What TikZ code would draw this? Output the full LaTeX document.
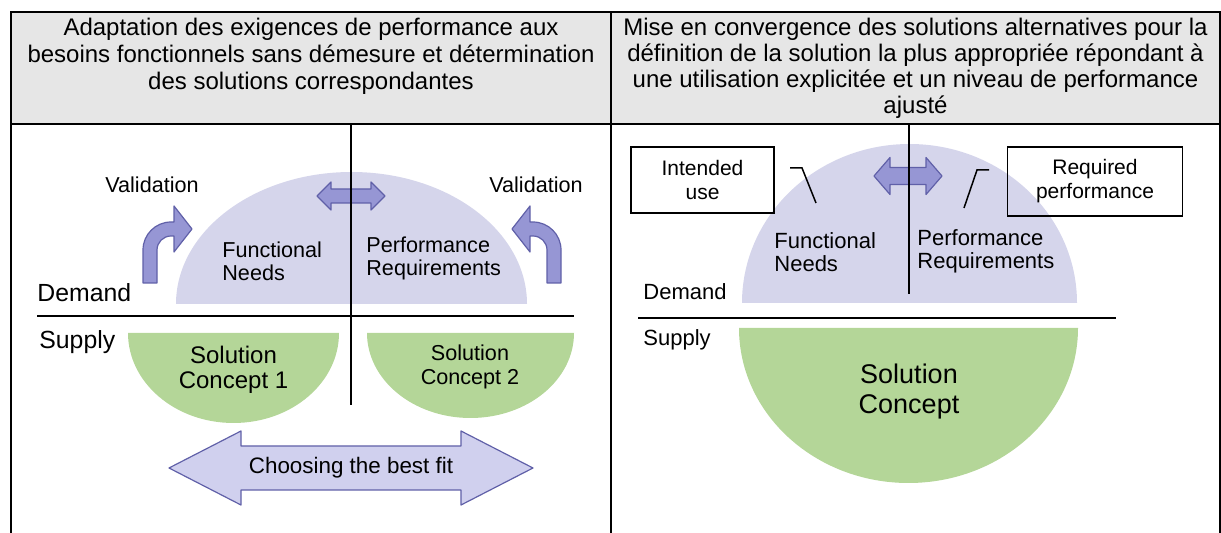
\documentclass[tikz,border=0pt]{standalone}
\usepackage{fontspec}
\setmainfont{Liberation Sans}
\usetikzlibrary{positioning}
\definecolor{hdrgray}{RGB}{230,230,230}
\definecolor{demandblue}{RGB}{213,213,235}
\definecolor{supplygreen}{RGB}{180,214,152}
\definecolor{arrowblue}{RGB}{150,150,212}
\definecolor{arrowedge}{RGB}{96,96,168}
\definecolor{fitblue}{RGB}{208,208,238}
\begin{document}
\begin{tikzpicture}[x=0.5pt,y=-0.5pt,
  frame/.style={line width=1pt},
  fs/.style 2 args={font=\fontsize{#1}{#2}\selectfont},
  lbl/.style={inner sep=0pt},
  valarrow/.style={fill=arrowblue,draw=arrowedge,line width=0.6pt,line join=round},
  dblarrow/.style={fill=arrowblue,draw=arrowedge,line width=0.6pt,line join=round},
  fitarrow/.style={fill=fitblue,draw=arrowedge,line width=0.6pt,line join=round},
  infobox/.style={draw,line width=0.75pt,align=center,inner sep=0pt,fs={10.5}{12}},
  leader/.style={line width=0.75pt}]
\useasboundingbox (0,0) rectangle (1221,533);
\fill[hdrgray] (11,12) rectangle (1220,124);
\draw[frame] (11,533) -- (11,12) -- (1220,12) -- (1220,533);
\draw[frame] (11,124) -- (1220,124);
\draw[frame] (611,12) -- (611,533);
\node[lbl,fs={12}{13.5},align=center] (hdrL) at (311,56)
  {Adaptation des exigences de performance aux\\besoins fonctionnels sans démesure et détermination\\des solutions correspondantes};
\node[lbl,fs={12}{13},align=center] (hdrR) at (915.5,68)
  {Mise en convergence des solutions alternatives pour la\\définition de la solution la plus appropriée répondant à\\une utilisation explicitée et un niveau de performance\\ajusté};

\fill[demandblue] (176,304) arc[start angle=180,end angle=360,x radius=175.5,y radius=132] -- cycle;
\fill[supplygreen] (128,333) arc[start angle=180,end angle=0,x radius=105.5,y radius=90] -- cycle;
\fill[supplygreen] (367,333) arc[start angle=180,end angle=0,x radius=103.5,y radius=85] -- cycle;
\draw[valarrow] (143,283) -- (143,250) arc[start angle=180,end angle=270,radius=28]
  -- ++(3,0) -- ++(0,-16) -- ++(18,23) -- ++(-18,23) -- ++(0,-16) -- ++(-3,0)
  arc[start angle=270,end angle=180,radius=14] -- (157,283) -- cycle;
\begin{scope}[shift={(704,0)},xscale=-1]
\draw[valarrow] (143,283) -- (143,250) arc[start angle=180,end angle=270,radius=28]
  -- ++(3,0) -- ++(0,-16) -- ++(18,23) -- ++(-18,23) -- ++(0,-16) -- ++(-3,0)
  arc[start angle=270,end angle=180,radius=14] -- (157,283) -- cycle;
\end{scope}
\draw[dblarrow] (317,196) -- ++(14,-14) -- ++(0,7) -- ++(40,0) -- ++(0,-7) -- ++(14,14)
  -- ++(-14,14) -- ++(0,-7) -- ++(-40,0) -- ++(0,7) -- cycle;
\draw[fitarrow] (169,468) -- ++(72,-37) -- ++(0,15) -- ++(220,0) -- ++(0,-15) -- ++(72,37)
  -- ++(-72,37) -- ++(0,-15) -- ++(-220,0) -- ++(0,15) -- cycle;
\draw[frame] (351,124) -- (351,405);
\draw[frame] (37,316) -- (574,316);
\node[lbl,fs={10.8}{13}] (valL) at (152,185) {Validation};
\node[lbl,fs={10.8}{13}] (valR) at (536,185) {Validation};
\node[lbl,fs={10.8}{11.5},align=left,anchor=west] (needsL) at (222,261) {Functional\\Needs};
\node[lbl,fs={10.8}{11.5},align=left,anchor=west] (perfL) at (366,258) {Performance\\Requirements};
\node[lbl,fs={12.4}{14},anchor=west] (demandL) at (37,293) {Demand};
\node[lbl,fs={12.4}{14},anchor=west] (supplyL) at (39,342) {Supply};
\node[lbl,fs={12}{12.5},align=center] (sol1) at (233.5,370) {Solution\\Concept 1};
\node[lbl,fs={10.8}{12},align=center] (sol2) at (470,367) {Solution\\Concept 2};
\node[lbl,fs={11.2}{13}] (fit) at (351,468) {Choosing the best fit};

\fill[demandblue] (742,303) arc[start angle=180,end angle=360,x radius=167.5,y radius=159] -- cycle;
\fill[supplygreen] (739,328) arc[start angle=180,end angle=0,x radius=169.5,y radius=155] -- cycle;
\draw[dblarrow] (874,176) -- ++(16,-18.5) -- ++(0,10) -- ++(36,0) -- ++(0,-10) -- ++(16,18.5)
  -- ++(-16,18.5) -- ++(0,-10) -- ++(-36,0) -- ++(0,10) -- cycle;
\draw[frame] (909,124) -- (909,294);
\draw[frame] (638,318) -- (1116,318);
\node[infobox,minimum width=71.5pt,minimum height=33pt] (use) at (702.5,180) {Intended\\use};
\node[infobox,minimum width=87.5pt,minimum height=34.5pt] (reqperf) at (1095,181.5) {Required\\performance};
\coordinate (useA) at (790,168);
\coordinate (useB) at (802,168);
\coordinate (useC) at (816,203);
\coordinate (reqA) at (989,170);
\coordinate (reqB) at (977,170);
\coordinate (reqC) at (964,208);
\draw[leader] (useA) -- (useB) -- (useC);
\draw[leader] (reqA) -- (reqB) -- (reqC);
\node[lbl,fs={11}{11.5},align=left,anchor=west] (needsR) at (774,252.5) {Functional\\Needs};
\node[lbl,fs={11}{11.5},align=left,anchor=west] (perfR) at (917,251.5) {Performance\\Requirements};
\node[lbl,fs={11}{13},anchor=west] (demandR) at (643,292) {Demand};
\node[lbl,fs={11}{13},anchor=west] (supplyR) at (643,340) {Supply};
\node[lbl,fs={13.5}{15},align=center] (solC) at (909,392) {Solution\\Concept};
\end{tikzpicture}
\end{document}
